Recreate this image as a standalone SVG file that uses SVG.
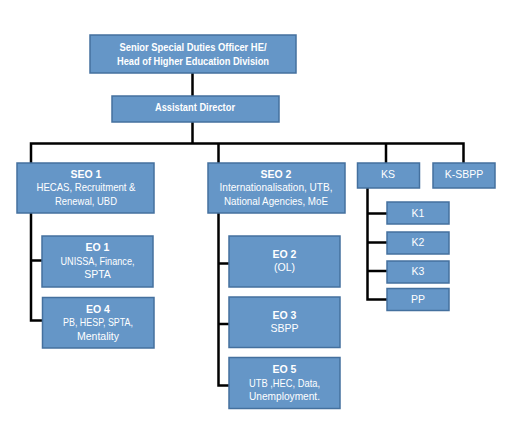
<svg xmlns="http://www.w3.org/2000/svg" width="532" height="438" viewBox="0 0 532 438">
<style>
.box{fill:#6596C7;stroke:#44709E;stroke-width:1.5}
.t{font-family:"Liberation Sans",Arial,sans-serif;font-size:10.5px;fill:#fff;text-anchor:middle}
.b{font-weight:bold}
.c{stroke:#000;stroke-width:2.5;fill:none;stroke-linecap:square}
</style>
<rect width="532" height="438" fill="#fff"/>
<g id="connectors">
<path class="c" d="M192.5 73V96M192.5 122V143.5M31 143.5H463.5M31 143.5V163M218.5 143.5V163M386 143.5V163M463.5 143.5V163"/>
<path class="c" d="M31 213V320.5H42M31 260.5H42"/>
<path class="c" d="M218.5 213V385.5H229M218.5 263.5H229M218.5 324H229"/>
<path class="c" d="M367.5 188V299.5H387M367.5 213.5H387M367.5 242.5H387M367.5 271H387"/>
</g>
<g id="head"><rect class="box" x="90" y="35" width="206" height="38"/>
<text class="t b" x="193" y="50.5" textLength="147" lengthAdjust="spacingAndGlyphs">Senior Special Duties Officer HE/</text>
<text class="t b" x="193" y="64.5" textLength="152" lengthAdjust="spacingAndGlyphs">Head of Higher Education Division</text></g>
<g id="ad"><rect class="box" x="112" y="96" width="167" height="26"/>
<text class="t b" x="195" y="111" textLength="80" lengthAdjust="spacingAndGlyphs">Assistant Director</text></g>
<g id="seo1"><rect class="box" x="17" y="163" width="137" height="50"/>
<text class="t b" x="86" y="177.5">SEO 1</text>
<text class="t" x="86" y="191" textLength="99" lengthAdjust="spacingAndGlyphs">HECAS, Recruitment &amp;</text>
<text class="t" x="86" y="205" textLength="62" lengthAdjust="spacingAndGlyphs">Renewal, UBD</text></g>
<g id="seo2"><rect class="box" x="208" y="163" width="137" height="50"/>
<text class="t b" x="276" y="177.5">SEO 2</text>
<text class="t" x="276" y="191" textLength="113" lengthAdjust="spacingAndGlyphs">Internationalisation, UTB,</text>
<text class="t" x="276" y="205" textLength="104" lengthAdjust="spacingAndGlyphs">National Agencies, MoE</text></g>
<g id="ks"><rect class="box" x="357.5" y="163" width="62" height="25"/>
<text class="t" x="388" y="177.5">KS</text></g>
<g id="ksbpp"><rect class="box" x="433" y="163" width="62" height="25"/>
<text class="t" x="464" y="177.5">K-SBPP</text></g>
<g id="k1"><rect class="box" x="387" y="202" width="62" height="22"/>
<text class="t" x="418" y="216.5">K1</text></g>
<g id="k2"><rect class="box" x="387" y="232" width="62" height="22"/>
<text class="t" x="418" y="246">K2</text></g>
<g id="k3"><rect class="box" x="387" y="261" width="62" height="22"/>
<text class="t" x="418" y="275">K3</text></g>
<g id="pp"><rect class="box" x="387" y="288.5" width="62" height="22"/>
<text class="t" x="418" y="303">PP</text></g>
<g id="eo1"><rect class="box" x="42" y="236" width="111" height="51"/>
<text class="t b" x="97.5" y="251">EO 1</text>
<text class="t" x="97.5" y="264.5" textLength="74" lengthAdjust="spacingAndGlyphs">UNISSA, Finance,</text>
<text class="t" x="97.5" y="277.5">SPTA</text></g>
<g id="eo4"><rect class="box" x="42.5" y="297.5" width="111.5" height="50.5"/>
<text class="t b" x="98" y="313">EO 4</text>
<text class="t" x="98" y="326" textLength="70" lengthAdjust="spacingAndGlyphs">PB, HESP, SPTA,</text>
<text class="t" x="98" y="339.5">Mentality</text></g>
<g id="eo2"><rect class="box" x="229" y="236" width="111" height="51"/>
<text class="t b" x="284.5" y="257.5">EO 2</text>
<text class="t" x="284.5" y="271">(OL)</text></g>
<g id="eo3"><rect class="box" x="229" y="297" width="111" height="50.5"/>
<text class="t b" x="284.5" y="318.5">EO 3</text>
<text class="t" x="284.5" y="332">SBPP</text></g>
<g id="eo5"><rect class="box" x="229" y="357.5" width="111" height="51"/>
<text class="t b" x="284.5" y="373">EO 5</text>
<text class="t" x="284.5" y="386.5" textLength="71" lengthAdjust="spacingAndGlyphs">UTB ,HEC, Data,</text>
<text class="t" x="284.5" y="400" textLength="71" lengthAdjust="spacingAndGlyphs">Unemployment.</text></g>
</svg>
